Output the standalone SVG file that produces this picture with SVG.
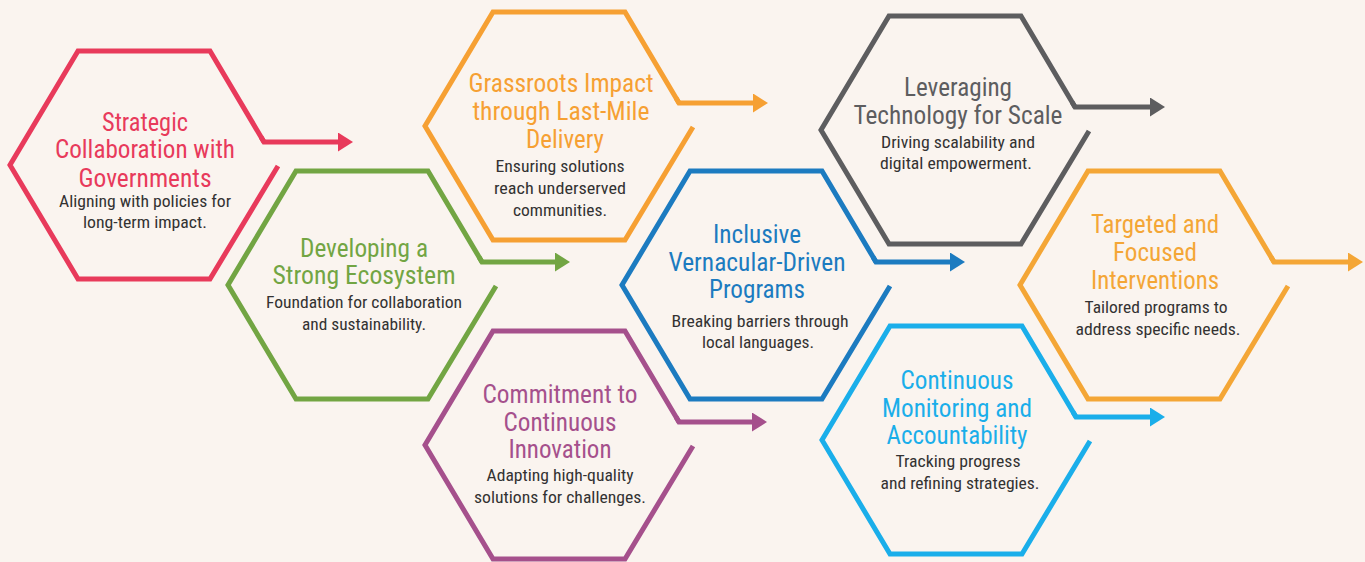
<svg xmlns="http://www.w3.org/2000/svg" width="1365" height="562" viewBox="0 0 1365 562">
<style>
.hex{fill:none;stroke-width:5;stroke-linejoin:miter;stroke-linecap:butt}
.con{fill:none;stroke-width:5;stroke-linejoin:miter}
.t{font-family:"Liberation Sans Narrow","Roboto Condensed","Liberation Sans",Arial,sans-serif;font-size:25px;text-anchor:middle}
.s{font-family:"Liberation Sans Narrow","Roboto Condensed","Liberation Sans",Arial,sans-serif;font-size:16.5px;text-anchor:middle;fill:#333232}
.red{stroke:#E83A5B}.redf{fill:#E83A5B}
.grn{stroke:#72A543}.grnf{fill:#72A543}
.org{stroke:#F6A033}.orgf{fill:#F6A033}
.pur{stroke:#A5508C}.purf{fill:#A5508C}
.blu{stroke:#1C7BC0}.bluf{fill:#1C7BC0}
.gry{stroke:#5D5D5F}.gryf{fill:#5D5D5F}
.lbl{stroke:#1AAEEA}.lblf{fill:#1AAEEA}
.or2{stroke:#F4A636}.or2f{fill:#F4A636}
</style>
<defs>
<marker id="m-red" markerUnits="userSpaceOnUse" markerWidth="16" markerHeight="20" refX="2" refY="9.5" orient="auto"><path d="M0,0 L15,9.5 L0,19 z" fill="#E83A5B"/></marker>
<marker id="m-grn" markerUnits="userSpaceOnUse" markerWidth="16" markerHeight="20" refX="2" refY="9.5" orient="auto"><path d="M0,0 L15,9.5 L0,19 z" fill="#72A543"/></marker>
<marker id="m-org" markerUnits="userSpaceOnUse" markerWidth="16" markerHeight="20" refX="2" refY="9.5" orient="auto"><path d="M0,0 L15,9.5 L0,19 z" fill="#F6A033"/></marker>
<marker id="m-pur" markerUnits="userSpaceOnUse" markerWidth="16" markerHeight="20" refX="2" refY="9.5" orient="auto"><path d="M0,0 L15,9.5 L0,19 z" fill="#A5508C"/></marker>
<marker id="m-blu" markerUnits="userSpaceOnUse" markerWidth="16" markerHeight="20" refX="2" refY="9.5" orient="auto"><path d="M0,0 L15,9.5 L0,19 z" fill="#1C7BC0"/></marker>
<marker id="m-gry" markerUnits="userSpaceOnUse" markerWidth="16" markerHeight="20" refX="2" refY="9.5" orient="auto"><path d="M0,0 L15,9.5 L0,19 z" fill="#5D5D5F"/></marker>
<marker id="m-lbl" markerUnits="userSpaceOnUse" markerWidth="16" markerHeight="20" refX="2" refY="9.5" orient="auto"><path d="M0,0 L15,9.5 L0,19 z" fill="#1AAEEA"/></marker>
<marker id="m-or2" markerUnits="userSpaceOnUse" markerWidth="16" markerHeight="20" refX="2" refY="9.5" orient="auto"><path d="M0,0 L15,9.5 L0,19 z" fill="#F4A636"/></marker>
</defs>
<rect width="1365" height="562" fill="#FAF4EF"/>

<g id="n1">
<polyline class="hex red" points="278,166 210,279 78,279 10,165 78,51 210,51 264,142"/>
<text class="t redf" x="145" y="131" textLength="86" lengthAdjust="spacingAndGlyphs">Strategic</text>
<text class="t redf" x="145" y="158" textLength="180" lengthAdjust="spacingAndGlyphs">Collaboration with</text>
<text class="t redf" x="145" y="187" textLength="133" lengthAdjust="spacingAndGlyphs">Governments</text>
<text class="s" x="145" y="207" textLength="172" lengthAdjust="spacingAndGlyphs">Aligning with policies for</text>
<text class="s" x="145" y="228" textLength="124" lengthAdjust="spacingAndGlyphs">long-term impact.</text>
</g>

<g id="n2">
<polyline class="hex grn" points="496,286 428,399 296,399 228,285 296,171 428,171 482,262"/>
<text class="t grnf" x="364" y="257" textLength="128" lengthAdjust="spacingAndGlyphs">Developing a</text>
<text class="t grnf" x="364" y="284" textLength="183" lengthAdjust="spacingAndGlyphs">Strong Ecosystem</text>
<text class="s" x="364" y="308" textLength="196" lengthAdjust="spacingAndGlyphs">Foundation for collaboration</text>
<text class="s" x="364" y="330" textLength="124" lengthAdjust="spacingAndGlyphs">and sustainability.</text>
</g>

<g id="n3">
<polyline class="hex org" points="693,127 625,240 493,240 425,126 493,12 625,12 679,103"/>
<text class="t orgf" x="561" y="92" textLength="185" lengthAdjust="spacingAndGlyphs">Grassroots Impact</text>
<text class="t orgf" x="561" y="120" textLength="177" lengthAdjust="spacingAndGlyphs">through Last-Mile</text>
<text class="t orgf" x="565" y="148" textLength="78" lengthAdjust="spacingAndGlyphs">Delivery</text>
<text class="s" x="560" y="172" textLength="129" lengthAdjust="spacingAndGlyphs">Ensuring solutions</text>
<text class="s" x="560" y="194" textLength="132" lengthAdjust="spacingAndGlyphs">reach underserved</text>
<text class="s" x="560" y="216" textLength="94" lengthAdjust="spacingAndGlyphs">communities.</text>
</g>

<g id="n4">
<polyline class="hex pur" points="693,446 625,559 493,559 425,445 493,331 625,331 679,422"/>
<text class="t purf" x="560" y="403" textLength="155" lengthAdjust="spacingAndGlyphs">Commitment to</text>
<text class="t purf" x="560" y="431" textLength="113" lengthAdjust="spacingAndGlyphs">Continuous</text>
<text class="t purf" x="560" y="458" textLength="103" lengthAdjust="spacingAndGlyphs">Innovation</text>
<text class="s" x="560" y="481" textLength="147" lengthAdjust="spacingAndGlyphs">Adapting high-quality</text>
<text class="s" x="560" y="503" textLength="172" lengthAdjust="spacingAndGlyphs">solutions for challenges.</text>
</g>

<g id="n5">
<polyline class="hex blu" points="890,286 822,399 690,399 622,285 690,171 822,171 876,262"/>
<text class="t bluf" x="757" y="243" textLength="88" lengthAdjust="spacingAndGlyphs">Inclusive</text>
<text class="t bluf" x="757" y="271" textLength="177" lengthAdjust="spacingAndGlyphs">Vernacular-Driven</text>
<text class="t bluf" x="757" y="298" textLength="96" lengthAdjust="spacingAndGlyphs">Programs</text>
<text class="s" x="760" y="327" textLength="177" lengthAdjust="spacingAndGlyphs">Breaking barriers through</text>
<text class="s" x="758" y="348" textLength="112" lengthAdjust="spacingAndGlyphs">local languages.</text>
</g>

<g id="n6">
<polyline class="hex gry" points="1089,131 1021,244 889,244 821,130 889,16 1021,16 1075,107"/>
<text class="t gryf" x="958" y="96" textLength="108" lengthAdjust="spacingAndGlyphs">Leveraging</text>
<text class="t gryf" x="958" y="124" textLength="209" lengthAdjust="spacingAndGlyphs">Technology for Scale</text>
<text class="s" x="958" y="148" textLength="154" lengthAdjust="spacingAndGlyphs">Driving scalability and</text>
<text class="s" x="956" y="169" textLength="152" lengthAdjust="spacingAndGlyphs">digital empowerment.</text>
</g>

<g id="n7">
<polyline class="hex lbl" points="1090,441 1022,554 890,554 822,440 890,326 1022,326 1076,417"/>
<text class="t lblf" x="957" y="389" textLength="113" lengthAdjust="spacingAndGlyphs">Continuous</text>
<text class="t lblf" x="957" y="417" textLength="150" lengthAdjust="spacingAndGlyphs">Monitoring and</text>
<text class="t lblf" x="957" y="444" textLength="141" lengthAdjust="spacingAndGlyphs">Accountability</text>
<text class="s" x="958" y="467" textLength="125" lengthAdjust="spacingAndGlyphs">Tracking progress</text>
<text class="s" x="960" y="489" textLength="159" lengthAdjust="spacingAndGlyphs">and refining strategies.</text>
</g>

<g id="n8">
<polyline class="hex or2" points="1288,286 1220,399 1088,399 1020,285 1088,171 1220,171 1274,262"/>
<text class="t or2f" x="1155" y="233" textLength="128" lengthAdjust="spacingAndGlyphs">Targeted and</text>
<text class="t or2f" x="1155" y="261" textLength="84" lengthAdjust="spacingAndGlyphs">Focused</text>
<text class="t or2f" x="1155" y="289" textLength="128" lengthAdjust="spacingAndGlyphs">Interventions</text>
<text class="s" x="1156" y="313" textLength="143" lengthAdjust="spacingAndGlyphs">Tailored programs to</text>
<text class="s" x="1158" y="335" textLength="165" lengthAdjust="spacingAndGlyphs">address specific needs.</text>
</g>

<g id="connectors">
<path class="con red" d="M261,137 L264,142 H340" marker-end="url(#m-red)"/>
<path class="con grn" d="M479,257 L482,262 H557" marker-end="url(#m-grn)"/>
<path class="con org" d="M676,98 L679,103 H755" marker-end="url(#m-org)"/>
<path class="con pur" d="M676,417 L679,422 H754" marker-end="url(#m-pur)"/>
<path class="con blu" d="M873,257 L876,262 H952" marker-end="url(#m-blu)"/>
<path class="con gry" d="M1072,102 L1075,107 H1152" marker-end="url(#m-gry)"/>
<path class="con lbl" d="M1073,412 L1076,417 H1152" marker-end="url(#m-lbl)"/>
<path class="con or2" d="M1271,257 L1274,262 H1350" marker-end="url(#m-or2)"/>
</g>
</svg>
